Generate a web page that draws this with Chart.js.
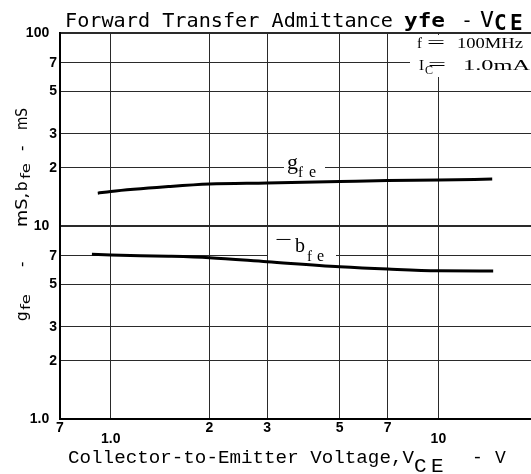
<!DOCTYPE html>
<html><head><meta charset="utf-8">
<script src="https://cdn.jsdelivr.net/npm/chart.js@4.4.0/dist/chart.umd.min.js"></script>
<style>
html,body{margin:0;padding:0;background:#fff;overflow:hidden;width:531px;height:474px}
#wrap{position:absolute;left:0;top:0;width:560px;height:474px}
</style>
</head><body><div id="wrap"><canvas id="c" width="560" height="474"></canvas></div>
<script>
// ---- data ----
const vceG = [0.913, 1.0, 1.5, 2, 3, 5, 7, 10, 14.6];
const gfe  = [14.8, 15.1, 16.0, 16.5, 16.7, 17.0, 17.2, 17.3, 17.5];
const vceB = [0.876, 1.0, 1.5, 2, 3, 5, 7, 10, 14.7];
const bfe  = [7.13, 7.07, 6.97, 6.85, 6.53, 6.15, 5.98, 5.86, 5.85];
const xTickValues = [0.7, 1, 2, 3, 5, 7, 10, 20];
const xTickLabels = ['7', '1.0', '2', '3', '5', '7', '10', '2'];
const xLoweredTicks = [1, 10];
const yTickValues = [1, 2, 3, 5, 7, 10, 20, 30, 50, 70, 100];
const yTickLabels = ['1.0', '2', '3', '5', '7', '10', '2', '3', '5', '7', '100'];

const toXY = (xs, ys) => xs.map((x, i) => ({x: x, y: ys[i]}));

function seg(ctx, text, x, y, font, w) {
  ctx.save();
  ctx.font = font; ctx.textBaseline = 'alphabetic'; ctx.textAlign = 'left'; ctx.fillStyle = '#000';
  if (w) {
    const m = ctx.measureText(text).width;
    ctx.translate(x, y); ctx.scale(w / m, 1); ctx.fillText(text, 0, 0);
  } else {
    ctx.fillText(text, x, y);
  }
  ctx.restore();
}

const textPlugin = {
  id: 'texts',
  beforeDatasetsDraw(chart) {
    const ctx = chart.ctx;
    ctx.save();
    ctx.fillStyle = '#fff';
    ctx.fillRect(284, 155, 41, 26);   // g_fe label box
    ctx.fillRect(268, 234, 68, 30);   // -b_fe label box
    ctx.fillRect(410, 35, 150, 42);   // condition box
    ctx.restore();
  },
  afterDraw(chart) {
    const ctx = chart.ctx;
    const MONO = '"DejaVu Sans Mono"';
    const CUR = '"Liberation Mono"';
    const SER = '"Liberation Serif"';
    // title
    seg(ctx, 'Forward Transfer Admittance', 65, 27, '20px ' + MONO, 328);
    seg(ctx, 'yfe', 404, 27, 'bold 20px ' + MONO, 41);
    seg(ctx, '-', 461, 27, '20px ' + MONO);
    seg(ctx, 'V', 480, 27, '21px ' + MONO, 14);
    seg(ctx, 'C', 494, 30, 'bold 21px ' + MONO);
    seg(ctx, 'E', 510, 30, 'bold 21px ' + MONO);
    // x axis title
    seg(ctx, 'Collector-to-Emitter Voltage,V', 68, 463, '18px ' + CUR, 346);
    seg(ctx, 'C', 414, 472, '21px ' + CUR);
    seg(ctx, 'E', 431, 472, '21px ' + CUR);
    seg(ctx, '-', 472, 463, '18px ' + CUR);
    seg(ctx, 'V', 495, 463, '18px ' + CUR);
    // y axis title (rotated)
    ctx.save();
    ctx.translate(27, 323);
    ctx.rotate(-Math.PI / 2);
    const YF = '15px "DejaVu Sans"';
    const YS = '12px "DejaVu Sans"';
    seg(ctx, 'g', 2, 0, YF);
    seg(ctx, 'fe', 13, 3, YS, 16);
    seg(ctx, '-', 56, 0, YF);
    seg(ctx, 'mS,', 96, 0, YF, 34);
    seg(ctx, 'b', 132, 0, YF);
    seg(ctx, 'fe', 144, 3, YS, 16);
    seg(ctx, '-', 172, 0, YF);
    seg(ctx, 'mS', 193, 0, YF, 22);
    ctx.restore();
    // conditions
    seg(ctx, 'f', 417, 48, '15px ' + SER);
    seg(ctx, '=', 427, 48, '16px ' + SER, 18);
    seg(ctx, '100MHz', 457, 48, '14px ' + SER, 66);
    seg(ctx, 'I', 419, 70, '15px ' + SER);
    seg(ctx, 'C', 425, 74, '12px ' + SER, 8);
    seg(ctx, '=', 428, 70, '16px ' + SER, 18);
    seg(ctx, '1.0mA', 463, 70, '14px ' + SER, 67);
    // curve labels
    seg(ctx, 'g', 287, 169, '22px ' + SER, 11);
    seg(ctx, 'f', 298, 177, '15px ' + SER);
    seg(ctx, 'e', 309, 177, '16px ' + SER);
    seg(ctx, '\u2212', 275, 246, '20px ' + SER, 17);
    seg(ctx, 'b', 295, 252, '20px ' + SER, 10);
    seg(ctx, 'f', 307, 261, '15px ' + SER);
    seg(ctx, 'e', 317, 261, '16px ' + SER);
  }
};

const tickFontX = {family: 'Liberation Sans', weight: 'bold', size: 14, lineHeight: '11px'};
const tickFontY = {family: 'Liberation Sans', weight: 'bold', size: 14};

new Chart(document.getElementById('c'), {
  type: 'line',
  data: {
    datasets: [
      {label: 'gfe', data: toXY(vceG, gfe), borderColor: '#000', borderWidth: 3,
       pointRadius: 0, cubicInterpolationMode: 'monotone', fill: false},
      {label: '-bfe', data: toXY(vceB, bfe), borderColor: '#000', borderWidth: 3,
       pointRadius: 0, cubicInterpolationMode: 'monotone', fill: false}
    ]
  },
  options: {
    responsive: false, animation: false, devicePixelRatio: 1,
    layout: {padding: {top: 33, right: 23, left: 0, bottom: 0}},
    plugins: {legend: {display: false}, tooltip: {enabled: false}, title: {display: false}},
    scales: {
      x: {
        type: 'logarithmic', position: 'bottom', min: 0.7, max: 20,
        afterBuildTicks: s => { s.ticks = xTickValues.map(v => ({value: v})); },
        afterFit: s => { s.height = 55; },
        grid: {color: '#2a2a2a', lineWidth: 1, drawTicks: false},
        border: {color: '#000', width: 2},
        ticks: {
          autoSkip: false, maxRotation: 0, minRotation: 0, padding: 4, color: '#000', font: tickFontX,
          callback: (v) => {
            const i = xTickValues.indexOf(v);
            const lab = i >= 0 ? xTickLabels[i] : '';
            return xLoweredTicks.includes(v) ? ['', lab] : lab;
          }
        }
      },
      y: {
        type: 'logarithmic', position: 'left', min: 1, max: 100,
        afterBuildTicks: s => { s.ticks = yTickValues.map(v => ({value: v})); },
        afterFit: s => { s.width = 60; },
        grid: {color: '#2a2a2a', drawTicks: false,
               lineWidth: c => (c.tick && (c.tick.value === 10 || c.tick.value === 100)) ? 2 : 1},
        border: {color: '#000', width: 2},
        ticks: {
          autoSkip: false, padding: 3, color: '#000', font: tickFontY,
          callback: (v) => {
            const i = yTickValues.indexOf(v);
            const lab = i >= 0 ? yTickLabels[i] : '';
            return lab.length > 1 ? lab + '  ' : lab;
          }
        }
      }
    }
  },
  plugins: [textPlugin]
});
</script>
</body></html>
